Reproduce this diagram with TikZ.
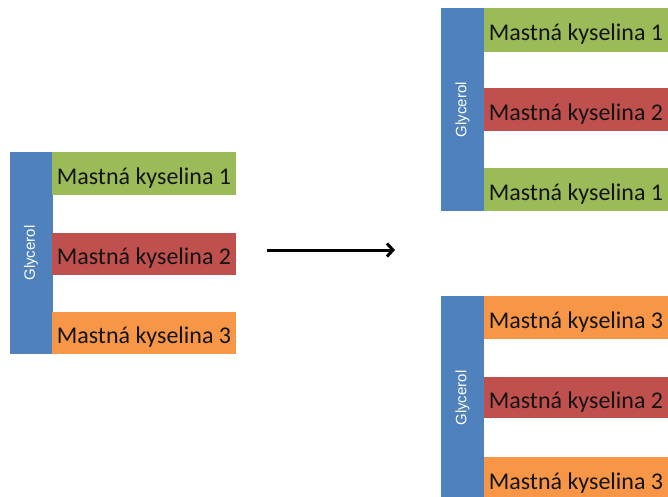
\documentclass[tikz,border=0pt]{standalone}
\usepackage{fontspec}
\setmainfont{Carlito}
\newfontfamily\glyfont{Liberation Sans}
\usetikzlibrary{arrows.meta}
\definecolor{glyblue}{HTML}{4F81BD}
\definecolor{fagreen}{HTML}{9BBB59}
\definecolor{fared}{HTML}{C0504D}
\definecolor{faorange}{HTML}{F79646}
\tikzset{
  glybar/.style={fill=glyblue, draw=none, rotate=90, inner sep=0pt,
    minimum height=43pt, text=white,
    font=\glyfont\fontsize{15}{17}\selectfont},
  fabox/.style={draw=none, inner sep=0pt, minimum width=184pt,
    text=black!92, font=\fontsize{24}{26}\selectfont, text depth=0pt},
  reaction/.style={line width=3pt, -{Straight Barb[length=6pt,width=13pt,line width=3pt]}}
}
\begin{document}
\begin{tikzpicture}[x=1pt,y=1pt]
\useasboundingbox (0,0) rectangle (668,496);
\clip (0,0) rectangle (668,496);
% left triglyceride
\node[glybar, minimum width=202pt] (g1) at (31,243) {Glycerol};
\node[fabox, fill=fagreen, minimum height=43pt] (l1) at (144,322.5) {\raisebox{-5pt}{Mastná kyselina 1}};
\node[fabox, fill=fared, minimum height=42pt] (l2) at (144,242) {\raisebox{-5pt}{Mastná kyselina 2}};
\node[fabox, fill=faorange, minimum height=42pt] (l3) at (144,163) {\raisebox{-5pt}{Mastná kyselina 3}};
% right top
\node[glybar, minimum width=203pt] (g2) at (462.5,386.5) {Glycerol};
\node[fabox, fill=fagreen, minimum height=44pt] (t1) at (576,466) {\raisebox{-5pt}{Mastná kyselina 1}};
\node[fabox, fill=fared, minimum height=43pt] (t2) at (576,386.5) {\raisebox{-5pt}{Mastná kyselina 2}};
\node[fabox, fill=fagreen, minimum height=43pt] (t3) at (576,306.5) {\raisebox{-5pt}{Mastná kyselina 1}};
% right bottom
\node[glybar, minimum width=204pt] (g3) at (462.5,98) {Glycerol};
\node[fabox, fill=faorange, minimum height=43pt] (b1) at (576,178.5) {\raisebox{-5pt}{Mastná kyselina 3}};
\node[fabox, fill=fared, minimum height=41pt] (b2) at (576,98.5) {\raisebox{-5pt}{Mastná kyselina 2}};
\node[fabox, fill=faorange, minimum height=43pt] (b3) at (576,17.5) {\raisebox{-5pt}{Mastná kyselina 3}};
% arrow
\coordinate (as) at (267,246);
\coordinate (ae) at (395,246);
\draw[reaction] (as) -- (ae);
\end{tikzpicture}
\end{document}
